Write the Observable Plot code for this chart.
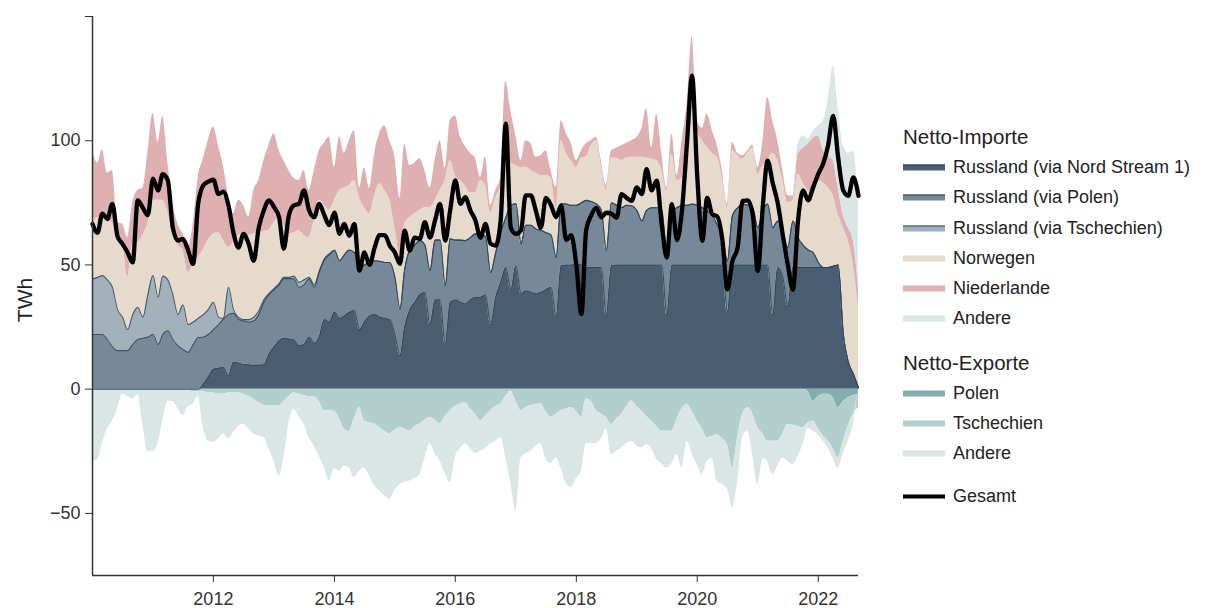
<!DOCTYPE html>
<html>
<head>
<meta charset="utf-8">
<script src="https://cdn.jsdelivr.net/npm/d3@7"></script>
<script src="https://cdn.jsdelivr.net/npm/@observablehq/plot@0.6"></script>
<style>
  body { margin: 0; background: #fff; font-family: "Liberation Sans", Arial, sans-serif; }
  #wrap { position: relative; width: 1213px; height: 608px; overflow: hidden; }
  #chart { position: absolute; left: 0; top: 0; }
  #legend { position: absolute; left: 0; top: 0; width: 1213px; height: 608px; color: #222; }
  .h { position: absolute; left: 903px; font-size: 20.5px; white-space: nowrap; transform: translateY(-50%); }
  .it { position: absolute; left: 903px; display: flex; align-items: center; font-size: 18px; white-space: nowrap; transform: translateY(-50%); }
  .sw { width: 42px; height: 6px; margin-right: 8px; box-sizing: border-box; }
</style>
</head>
<body>
<div id="wrap">
  <div id="chart"></div>
  <div id="legend"></div>
</div>
<script>
// ---- Data (monthly, Jan 2010 – Sep 2022), TWh ----
const startYear = 2010;
const nMonths = 153;

// Net imports
const russiaNordStream = [
  0,0,0,0,0,0,0,0,0,0,0,0,
  0,0,0,0,0,0,0,0,0,0,2,5,
  8,8.5,8.7,5.4,10.8,10.5,10,9.8,9.6,9.7,9.8,14,
  17,19.5,20.6,20.2,19.8,17.5,18,21,18.5,21,28,27,
  31,28.5,29.5,31,31.6,24,27,29.5,30,29,28.5,28,
  22,13.4,25,32,35,38,39,26,36,36,18,35,
  36,35,34.3,36,37,37,38,26,37,43,49,40,
  49.7,38.3,39.6,39,38.5,39,40,41,29,49.7,50,50,
  50.4,50,49,49,49,49,29.6,49.7,50,50,50,50,
  50,50,50,50,50,50,30,50,50,50,50,50,
  50,50,50,50,50,50,31,50,50,50,50,50,
  50,50,50,30,49,45,33.5,49,49,49,49,49,
  49,49,49,49.5,50,22,11,6,0.5
];
const russiaPolen = [
  22,22,22,20,17,15.5,15.5,15.5,18,20,20.5,21,
  22,18,22,23.5,20,17.5,16,14.8,18,20.8,19,17,
  16,17.5,19.5,24.6,19.7,17.5,17.5,17.2,17.9,20.3,25.2,24,
  23,22.5,23.9,24.3,24.6,23.5,24,23.4,22.5,26,24,27,
  24.8,23.2,24.5,25,23.4,24.4,23,21.5,21.7,22.5,22.5,23,
  23,18.9,23,24,23,21.8,19,21.7,24,24,23.7,25.5,
  24,25,25.5,25,25.5,25.5,23.5,21,18,20,20,34,
  24.9,20.2,26.4,27,26,25,23,21,24,24.9,24.5,24,
  23.6,25,27,26.5,25.6,23,26.2,25.3,24,23,24,23.8,
  22,17.7,22,23,23,22,25.6,22,23,24,24,24.5,
  24,23,21.8,20,16,12,20.6,20,23,24.5,24,23,
  15,22,24.5,35,18.7,17,23.5,18.7,12,9,7,6,
  2,0,0,0,0,0,0,0,0
];
const russiaTschechien = [
  22.4,23,23.7,24,24,16.5,13.5,8.5,12,13,8.5,17,
  23.7,19,23.5,20.5,18,12.5,18,11.2,9,7.7,9,10,
  11,3,0.3,11,1.5,1,0.5,1,1.5,1.5,1,0.5,
  0.5,0.5,0.5,0.5,1.1,2,2,0.6,1,0.5,0.5,0.5,
  0.2,0,0,0,0,0,0,0,0,0,0,0,
  0,0,0,0,0,0,0,0,0,0,0,0,
  0,0,0,0,0,0,0,0,0,0,0,0,
  0,0,0,0,0,0,0,0,0,0,0,0,
  0,0,0,0,0,0,0,0,0,0,0,0,
  0,0,0,0,0,0,0,0,0,0,0,0,
  0,0,0,0,0,0,0,0,0,0,0,0,
  0,0,0,0,0,0,0,0,0,0,0,0,
  0,0,0,0,0,0,0,0,0
];
const norwegen = [
  23.6,24,23.3,24,26,28,29.5,21,28.5,26,33,28.5,
  30.3,39,30.5,27,24,28,21.8,21,23,24.5,26,28,
  27.5,34,31.5,16,27,33,34.5,34,33.5,31.5,27.5,25.5,
  26.5,26.5,21,17.5,17.5,20.8,18,16,26,28.5,21.5,17.5,
  20,28.3,27,26,29,28.6,23,19.6,26.3,31.2,29,25,
  20,22.1,18.5,13,12.6,12.2,15,25.3,16,20,42.3,31.5,
  26,24,22,18,16.5,21.5,20.5,24,22,19,27,17,
  15.4,30.5,23.4,22,22.5,22,23,23,20.3,25.4,20.5,18,
  15,18,17.4,22.5,25.4,18,24.2,18,19,19,19,19.5,
  21.3,25.6,21,19.5,19,16,24.2,22.6,11,11,30,51,
  30,27,25.5,25,27.3,23,21.4,26,21,18,21,24.3,
  21.6,18,17.5,30,24.3,22,18,8,25.6,25,24,23.5,
  32.9,34,32.2,28.5,20.4,43,48.7,44,32.3
];
const niederlande = [
  28,22,27.4,19,21,7,8,16,16.5,21,19,28.5,
  35,23.5,34,20.4,13,8.5,6.7,10,16.5,32,36.7,40,
  43,35,30,21,11.6,14,11.5,7.2,17.5,21,28.5,34,
  35.8,27,26,25.5,22,20.2,26,19,20,20,25,29.5,
  13.4,21.5,14,18,20,4,16,10.4,17,20.1,26,24,
  28.4,22.6,32.3,21,20.4,20.7,15,8,16,20,5,16,
  24,17.5,16,16,14,1.3,11.4,3,3,3.3,28,21,
  12,3,10.6,11,6.4,8,10,3,8,8,7.8,7,
  3,3,5.4,2,1.5,2,2,3,4,6,6,6.7,
  8,11.7,19.8,4.8,18.8,7,1.4,8.1,2,15,11,16.2,
  4,5,13.5,9,4.7,3,1.5,3.3,1,1.5,1,1,
  2.6,10,25.5,13,8,4,3,2,8,14,18.7,22.5,
  18,13,12.8,14,10.8,5,5.3,9.7,8.1
];
const andereImport = [
  0,0,0,0,0,0,0,0,0,0,0,0,
  0,0,0,0,0,0,0,0,0,0,0,0,
  0,0,0,0,0,0,0,0,0,0,0,0,
  0,0,0,0,0,0,0,0,0,0,0,0,
  0,0,0,0,0,0,0,0,0,0,0,0,
  0,0,0,0,0,0,0,0,0,0,0,0,
  0,0,0,0,0,0,0,0,0,0,0,0,
  0,0,0,0,0,0,0,0,0,0,0,0,
  0,0,0,0,0,0,0,0,0,0,0,0,
  0,0,0,0,0,0,0,0,0,0,0,0,
  0,0,0,0,0,0,0,0,0,0,0,0,
  0,0,0,0,0,0,0,0,4,5,2,3,
  4,12,22,38,32,28,30,36,35
];

// Net exports (magnitudes, drawn below zero)
const exportPolen = [
  0,0,0,0,0,0,0,0,0,0,0,0,
  0,0,0,0,0,0,0,0,0,0,0,0,
  0,0,0,0,0,0,0,0,0,0,0,0,
  0,0,0,0,0,0,0,0,0,0,0,0,
  0,0,0,0,0,0,0,0,0,0,0,0,
  0,0,0,0,0,0,0,0,0,0,0,0,
  0,0,0,0,0,0,0,0,0,0,0,0,
  0,0,0,0,0,0,0,0,0,0,0,0,
  0,0,0,0,0,0,0,0,0,0,0,0,
  0,0,0,0,0,0,0,0,0,0,0,0,
  0,0,0,0,0,0,0,0,0,0,0,0,
  0,0,0,0,0,0,0,0,0,0,1,4.8,
  3,2,2,3.5,7.5,5,3.5,2.5,2
];
const exportTschechien = [
  0.5,0.5,0.5,0.5,0.5,0.5,0.5,0.5,0.5,0.5,0.5,0.5,
  0.5,0.5,0.5,0.5,0.5,0.5,0.5,0.5,1,1,1,1.5,
  1.5,2,2,1.5,1.5,1.5,2,3,4,5.5,6.5,6.7,
  6.7,6.7,5,3,1.5,2,2.5,3,3,5,8.7,8.7,
  9,12,16,17,12,7.4,12.8,13.5,14,15.5,17,18,
  16.5,15.5,16,16.8,15,14,12.5,11.4,12.5,14,11,8.7,
  7,6,5.4,8,10,12.8,11,8.7,7,6,3,0.7,
  5,8.7,7.5,6.7,6.2,6,9,11.4,10,8.7,8,7.4,
  9,11.4,4,5,8.7,10,11.4,14.2,12,10.2,7,4.8,
  7,8.9,11,12.9,15,16.9,16.9,16.9,12,8,6.2,9,
  12.9,16,19.6,19,18.3,20,22.3,31.7,19.6,10.2,7.5,10,
  15.6,18,21,21,21,18,14.2,14.5,15,15.6,12.5,8.1,
  13,17,19,20.5,20.2,16,11.5,7.5,5.5
];
const exportAndere = [
  28.5,28,21.5,15.5,12.5,7.5,1.5,2.5,3.5,1.5,13.5,24.5,
  24.5,21.5,12.5,4.5,4.5,7.5,10.3,6.5,5,2,14.5,19.5,
  20,18,16,18.5,16,13.5,12,13,14,13.5,13,17.3,
  22.3,28.3,23,11,6.5,9,11.5,16.5,20,22,22.9,28.3,
  23,21,15,14.6,23.6,25.6,18.8,21.5,25,25.5,26,26.4,
  24.5,22.8,21.5,20.2,21,20.3,15.5,10.6,13.5,15,23,28.9,
  20.6,18,16.6,16,16,12.2,13,13.3,14,13.5,24.6,37.3,
  44,18.9,18.5,18.3,16.8,16,19,18.6,17.6,23.3,30,32.2,
  27,21.6,18,17,13.3,10,4.6,12.1,13,13.5,15,16.2,
  16,14.8,11.3,11.1,13,13.1,14.8,13.1,14.3,23.7,14.8,17,
  17.5,18.4,9.4,9,18.7,18.4,17.7,16.1,17.5,9.4,9.4,16.3,
  22.8,10,8,13.4,10,9.7,14.8,15.9,12,6.7,2.1,4.1,
  2.3,2,2.7,4,4,5,6,4,0
];

// Net total
const gesamt = [
  66.5,63,70.6,68.5,74.6,61.5,58.5,55,51,76,73,70,
  84.7,80,86.5,84,65,59.8,60.5,56,50.4,74.6,82,83.5,
  84.3,78.5,79.5,74,63,57,62.5,58.5,51.7,65,72,76,
  73.3,69.2,56.5,70,74,74.6,80,72,69.2,74.6,70,66,
  71,62.5,66.5,61.8,66.5,47.7,55,50,57,62,62,57.8,
  55,50.4,63.8,55.8,61,60.5,67.2,61,68,74.6,59.8,72,
  84,74.6,77.3,72,68,61,66.5,58.5,57.8,68,106.9,65,
  62.5,64,78,78,72,65,77,74,69.2,74,60,62,
  50,30.2,63.8,70,73,69.2,71,70.6,69,78.5,77,75.8,
  81.2,78.5,88.6,80,83.9,66,53,74.5,60,72,100,126.2,
  86,59.7,77,70.4,69.5,60,40.2,51.6,57,75.8,76,70.4,
  47.6,74.5,92,83,75,62,50,40,68,80,76,81.2,
  86.6,91,98,110,93.3,80,77.8,85.2,77.8
];

const yTicks = [-50, 0, 50, 100, 150];
const xTickYears = [2012, 2014, 2016, 2018, 2020, 2022];

const importSeries = [
  {key: "Russland (via Nord Stream 1)", values: russiaNordStream, color: "#4a5d71"},
  {key: "Russland (via Polen)", values: russiaPolen, color: "#778998"},
  {key: "Russland (via Tschechien)", values: russiaTschechien, color: "#a2b0ba"},
  {key: "Norwegen", values: norwegen, color: "#e6dacc"},
  {key: "Niederlande", values: niederlande, color: "#deb0b2"},
  {key: "Andere (Import)", values: andereImport, color: "#d9e6e5"}
];
const exportSeries = [
  {key: "Polen (Export)", values: exportPolen, color: "#84adad"},
  {key: "Tschechien (Export)", values: exportTschechien, color: "#b2cfcd"},
  {key: "Andere (Export)", values: exportAndere, color: "#d9e6e5"}
];

// ---- Build tables ----
const months = d3.range(nMonths).map(i => new Date(Date.UTC(startYear, i, 1)));
const imports = importSeries.flatMap(s => s.values.map((v, i) => ({date: months[i], key: s.key, value: v})));
const exportsData = exportSeries.flatMap(s => s.values.map((v, i) => ({date: months[i], key: s.key, value: -v})));
const russiaKeys = importSeries.slice(0, 3).map(s => s.key);
const russiaRows = imports.filter(d => russiaKeys.includes(d.key));
const totalRows = gesamt.map((v, i) => ({date: months[i], value: v}));

const allSeries = importSeries.concat(exportSeries);
const fmt = d => d === 150 ? "" : (d < 0 ? "\u2212" + (-d) : String(d));

const chart = Plot.plot({
  width: 870,
  height: 608,
  marginTop: 16,
  marginBottom: 33,
  marginLeft: 92,
  marginRight: 12,
  style: {fontFamily: "'Liberation Sans', Arial, sans-serif", fontSize: "18px", color: "#333", background: "transparent"},
  x: {type: "utc", domain: [months[0], months[nMonths - 1]]},
  y: {domain: [-75, 150]},
  color: {domain: allSeries.map(s => s.key), range: allSeries.map(s => s.color)},
  marks: [
    Plot.areaY(imports, {x: "date", y: "value", z: "key", fill: "key", order: importSeries.map(s => s.key), curve: "monotone-x"}),
    Plot.areaY(exportsData, {x: "date", y: "value", z: "key", fill: "key", order: exportSeries.map(s => s.key), curve: "monotone-x"}),
    Plot.lineY(russiaRows, Plot.stackY2({x: "date", y: "value", z: "key", order: russiaKeys, stroke: "#2d465d", strokeWidth: 1.1, strokeOpacity: 0.85, curve: "monotone-x"})),
    Plot.line(totalRows, {x: "date", y: "value", stroke: "#000", strokeWidth: 4.3, curve: "monotone-x"}),
    Plot.axisY({ticks: yTicks, tickFormat: fmt, tickSize: 7, tickPadding: 5, label: null, stroke: "#333"}),
    Plot.axisX({ticks: xTickYears.map(y => new Date(Date.UTC(y, 0, 1))), tickFormat: d => String(d.getUTCFullYear()), tickSize: 7, tickPadding: 10, label: null, stroke: "#333"}),
    Plot.ruleX([months[0]], {stroke: "#333", strokeWidth: 1.5}),
    Plot.ruleY([-75], {stroke: "#333", strokeWidth: 1.5})
  ]
});

// y-axis title
d3.select(chart).append("text")
  .attr("transform", "translate(26,300) rotate(-90)")
  .attr("text-anchor", "middle")
  .attr("dominant-baseline", "middle")
  .attr("font-size", 21)
  .attr("fill", "#222")
  .text("TWh");

document.getElementById("chart").appendChild(chart);

// ---- Legend ----
const legend = document.getElementById("legend");
function heading(text, y) {
  const d = document.createElement("div");
  d.className = "h"; d.style.top = y + "px"; d.textContent = text;
  legend.appendChild(d);
}
function item(text, y, color, topLine, lineOnly) {
  const d = document.createElement("div");
  d.className = "it"; d.style.top = y + "px";
  const sw = document.createElement("div");
  sw.className = "sw";
  if (lineOnly) { sw.style.height = "4px"; sw.style.background = "#000"; }
  else {
    sw.style.background = color;
    if (topLine) sw.style.borderTop = "1.5px solid #2d465d";
  }
  const t = document.createElement("span"); t.textContent = text;
  d.appendChild(sw); d.appendChild(t);
  legend.appendChild(d);
}
heading("Netto-Importe", 137);
const impLabels = ["Russland (via Nord Stream 1)", "Russland (via Polen)", "Russland (via Tschechien)", "Norwegen", "Niederlande", "Andere"];
const impY = [167, 197, 228, 258, 288, 318];
importSeries.forEach((s, i) => item(impLabels[i], impY[i], s.color, i < 3, false));
heading("Netto-Exporte", 363);
const expLabels = ["Polen", "Tschechien", "Andere"];
const expY = [393, 423, 453];
exportSeries.forEach((s, i) => item(expLabels[i], expY[i], s.color, false, false));
item("Gesamt", 496, "#000", false, true);
</script>
</body>
</html>
